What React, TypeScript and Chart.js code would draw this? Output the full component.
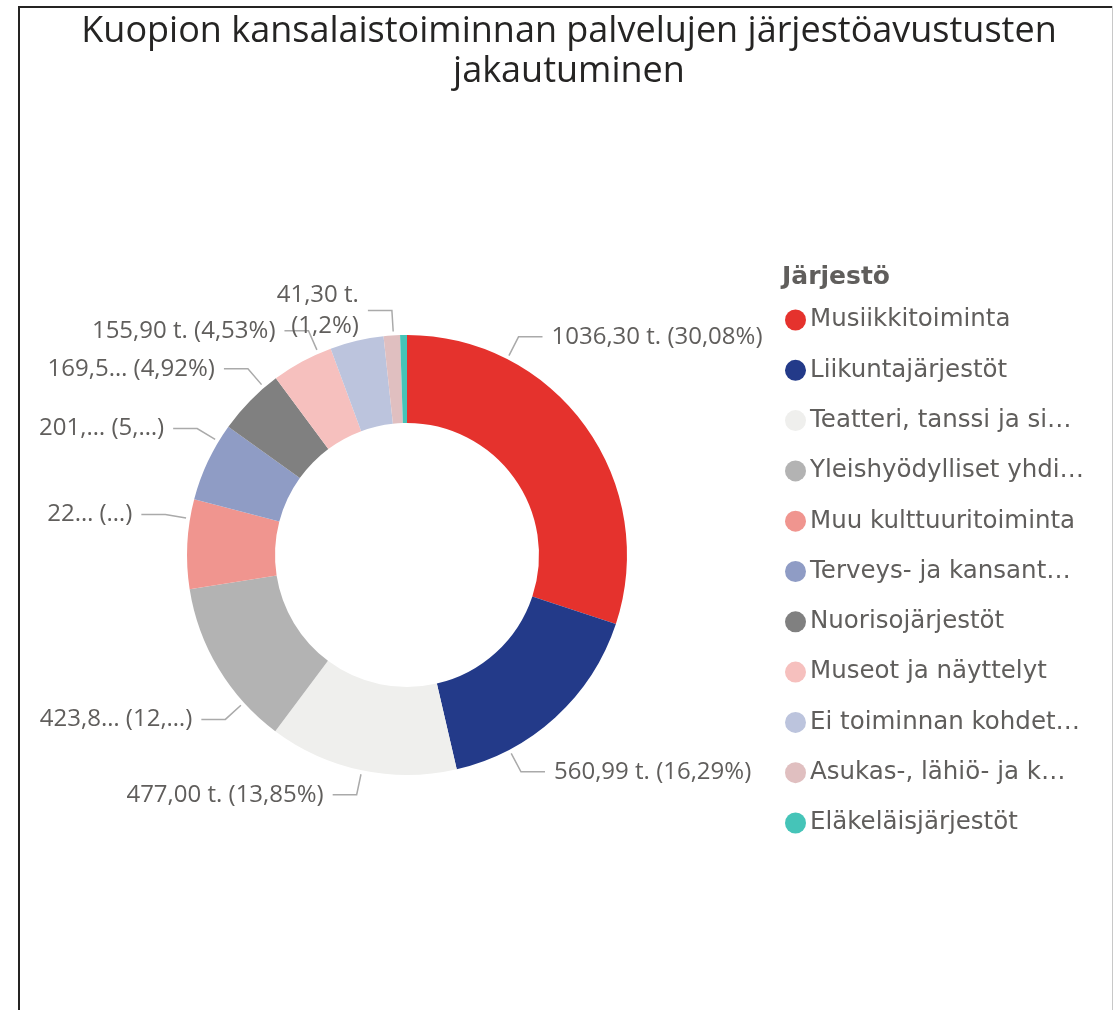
import React, { useEffect, useRef } from "react";
import { Chart, registerables } from "chart.js";

Chart.register(...registerables);

const titleLines = [
  "Kuopion kansalaistoiminnan palvelujen järjestöavustusten",
  "jakautuminen",
];
const legendTitle = "Järjestö";

const categories = [
  "Musiikkitoiminta",
  "Liikuntajärjestöt",
  "Teatteri, tanssi ja si…",
  "Yleishyödylliset yhdi…",
  "Muu kulttuuritoiminta",
  "Terveys- ja kansant…",
  "Nuorisojärjestöt",
  "Museot ja näyttelyt",
  "Ei toiminnan kohdet…",
  "Asukas-, lähiö- ja k…",
  "Eläkeläisjärjestöt",
];

const values = [1036.3, 560.99, 477.0, 423.8, 226.0, 201.0, 169.5, 155.9, 135.6, 41.3, 17.3];

const dataLabels = [
  "1036,30 t. (30,08%)",
  "560,99 t. (16,29%)",
  "477,00 t. (13,85%)",
  "423,8… (12,…)",
  "22… (…)",
  "201,… (5,…)",
  "169,5… (4,92%)",
  "155,90 t. (4,53%)",
  "",
  "41,30 t.\n(1,2%)",
  "",
];

// where along each slice (0..1) the leader line starts; null = label hidden
const labelAnchors = [0.25, 0.75, 0.5, 0.25, 0.78, 0.78, 0.78, 0.79, null, 0.6, null];

const colors = [
  "#E5322D",
  "#233A89",
  "#EFEFED",
  "#B3B3B3",
  "#F0958F",
  "#8F9CC5",
  "#808080",
  "#F6C0BE",
  "#BCC4DD",
  "#E0BFC0",
  "#45C4B8",
];

const FONT = "'Segoe UI', 'Open Sans', 'Noto Sans', sans-serif";
const LEGEND_FONT = "'DejaVu Sans', Verdana, sans-serif";

const framePlugin = {
  id: "frame",
  beforeDraw(chart: any) {
    const ctx = chart.ctx;
    ctx.save();
    ctx.fillStyle = "#ffffff";
    ctx.fillRect(0, 0, chart.width, chart.height);
    ctx.fillStyle = "#252423";
    ctx.fillRect(18, 6, 2, chart.height - 6);
    ctx.fillRect(18, 6, chart.width - 18, 2);
    ctx.fillStyle = "#c8c8c8";
    ctx.fillRect(chart.width - 1, 6, 1, chart.height - 6);
    // title
    ctx.fillStyle = "#252423";
    ctx.font = `36px ${FONT}`;
    ctx.textAlign = "center";
    ctx.textBaseline = "middle";
    titleLines.forEach((t, i) => ctx.fillText(t, 569, 32 + i * 40));
    ctx.restore();
  },
};

const labelPlugin = {
  id: "outLabels",
  afterDatasetsDraw(chart: any) {
    const ctx = chart.ctx;
    const meta = chart.getDatasetMeta(0);
    ctx.save();
    ctx.font = `24px ${FONT}`;
    ctx.textBaseline = "middle";
    meta.data.forEach((arc: any, i: number) => {
      const frac = labelAnchors[i];
      const text = dataLabels[i];
      if (frac === null || !text) return;
      const p = arc.getProps(["x", "y", "startAngle", "endAngle", "outerRadius"], true);
      const a = p.startAngle + frac * (p.endAngle - p.startAngle);
      const r0 = p.outerRadius + 4;
      const r1 = p.outerRadius + 25;
      const sx = p.x + r0 * Math.cos(a);
      const sy = p.y + r0 * Math.sin(a);
      const ex = p.x + r1 * Math.cos(a);
      const ey = p.y + r1 * Math.sin(a);
      const right = Math.cos(a) >= 0;
      const hx = ex + (right ? 24 : -24);
      ctx.strokeStyle = "#aaaaaa";
      ctx.lineWidth = 1.5;
      ctx.beginPath();
      ctx.moveTo(sx, sy);
      ctx.lineTo(ex, ey);
      ctx.lineTo(hx, ey);
      ctx.stroke();
      ctx.fillStyle = "#605E5C";
      ctx.textAlign = right ? "left" : "right";
      const lines = text.split("\n");
      const lh = 31;
      const tx = hx + (right ? 9 : -9);
      lines.forEach((ln, k) => {
        ctx.fillText(ln, tx, ey + (k - (lines.length - 1) / 2) * lh);
      });
    });
    ctx.restore();
  },
};

const legendPlugin = {
  id: "sideLegend",
  afterDraw(chart: any) {
    const ctx = chart.ctx;
    ctx.save();
    ctx.textBaseline = "middle";
    ctx.textAlign = "left";
    ctx.fillStyle = "#605E5C";
    ctx.font = `bold 25px ${LEGEND_FONT}`;
    ctx.fillText(legendTitle, 782, 277);
    ctx.font = `24.5px ${LEGEND_FONT}`;
    categories.forEach((c, i) => {
      const y = 320 + i * 50.3;
      ctx.fillStyle = colors[i];
      ctx.beginPath();
      ctx.arc(795.5, y, 10.5, 0, Math.PI * 2);
      ctx.fill();
      ctx.fillStyle = "#605E5C";
      ctx.fillText(c, 810, y);
    });
    ctx.restore();
  },
};

export default function App() {
  const ref = useRef<HTMLCanvasElement | null>(null);
  useEffect(() => {
    if (!ref.current) return;
    const chart = new Chart(ref.current, {
      type: "doughnut",
      data: {
        labels: categories,
        datasets: [
          {
            data: values,
            backgroundColor: colors,
            borderWidth: 0,
          },
        ],
      },
      options: {
        animation: false,
        responsive: false,
        maintainAspectRatio: false,
        cutout: "60%",
        layout: { padding: { left: 187, right: 486, top: 335, bottom: 235 } },
        plugins: {
          legend: { display: false },
          title: { display: false },
          tooltip: { enabled: false },
        },
      },
      plugins: [framePlugin, labelPlugin, legendPlugin],
    });
    return () => chart.destroy();
  }, []);
  return (
    <div style={{ position: "fixed", left: 0, top: 0, width: 1113, height: 1010, background: "#fff" }}>
      <canvas ref={ref} width={1113} height={1010} style={{ display: "block", width: 1113, height: 1010 }} />
    </div>
  );
}
